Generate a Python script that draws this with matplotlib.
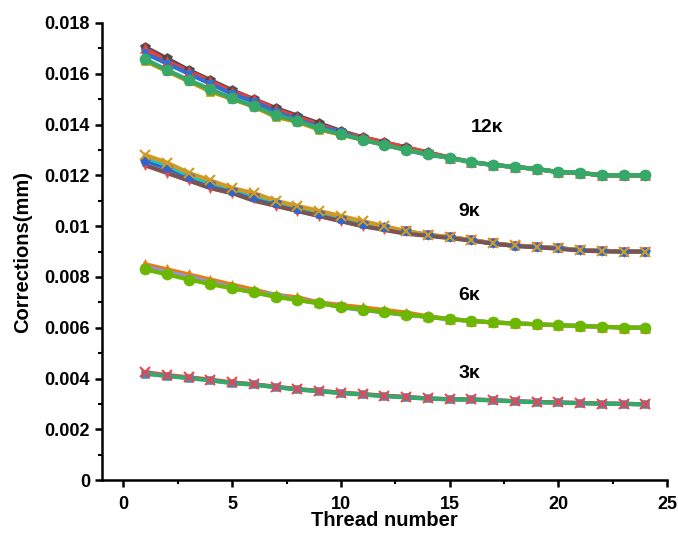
import matplotlib
matplotlib.use("Agg")
import matplotlib.pyplot as plt
from matplotlib.ticker import MultipleLocator, FuncFormatter

plt.rcParams['font.family'] = ['Liberation Sans', 'DejaVu Sans']
plt.rcParams['font.weight'] = 'bold'

threads = list(range(1, 25))

# 12K group
k12_gray = [0.01705, 0.0166, 0.01615, 0.01575, 0.01535, 0.0150, 0.01465, 0.01435, 0.01405, 0.01375, 0.0135, 0.0133,
            0.0131, 0.0129, 0.0127, 0.01252, 0.01241, 0.01233, 0.01225, 0.01213, 0.0121, 0.0120, 0.0120, 0.0120]
k12_red = [0.0170, 0.0165, 0.0161, 0.0157, 0.0153, 0.0150, 0.0146, 0.0143, 0.0140, 0.0137, 0.0135, 0.0133,
           0.0131, 0.0129, 0.0127, 0.01252, 0.01241, 0.01233, 0.01225, 0.01213, 0.0121, 0.0120, 0.0120, 0.0120]
k12_blue = [0.0168, 0.0164, 0.0160, 0.0156, 0.0152, 0.0149, 0.0145, 0.0142, 0.0139, 0.0137, 0.0134, 0.0132,
            0.0130, 0.0128, 0.0127, 0.01252, 0.01241, 0.01233, 0.01225, 0.01213, 0.0121, 0.0120, 0.0120, 0.0120]
k12_olive = [0.0165, 0.0161, 0.0157, 0.0153, 0.0150, 0.0147, 0.0143, 0.0141, 0.0138, 0.0136, 0.0134, 0.0132,
             0.0130, 0.01284, 0.01268, 0.01252, 0.01241, 0.01233, 0.01225, 0.01213, 0.0121, 0.0120, 0.0120, 0.0120]
k12_green = [0.01657, 0.01615, 0.01575, 0.01539, 0.01503, 0.01473, 0.01438, 0.01415, 0.01385, 0.01362, 0.0134, 0.0132,
             0.0130, 0.01284, 0.01268, 0.01252, 0.01241, 0.01233, 0.01225, 0.01213, 0.0121, 0.0120, 0.0120, 0.0120]

# 9K group
k9_brown = [0.0124, 0.0121, 0.0118, 0.0115, 0.0113, 0.0110, 0.0108, 0.0106, 0.0104, 0.0102, 0.0100, 0.00985,
            0.0097, 0.00962, 0.00953, 0.00943, 0.00931, 0.00922, 0.00917, 0.00911, 0.00904, 0.00901, 0.0090, 0.0090]
k9_red = [0.0124, 0.0121, 0.0118, 0.0115, 0.0113, 0.0111, 0.0108, 0.0106, 0.0104, 0.0102, 0.0100, 0.0099,
          0.0098, 0.00965, 0.00956, 0.00945, 0.00932, 0.00923, 0.00919, 0.00913, 0.00906, 0.00903, 0.0090, 0.0090]
k9_blue = [0.01258, 0.01228, 0.01195, 0.01165, 0.0114, 0.01116, 0.0109, 0.01067, 0.01048, 0.01028, 0.0101, 0.00995,
           0.0098, 0.00965, 0.00956, 0.00945, 0.00932, 0.00923, 0.00919, 0.00913, 0.00906, 0.00903, 0.0090, 0.0090]
k9_cyan = [0.0127, 0.0124, 0.0120, 0.0117, 0.0115, 0.0112, 0.0110, 0.0107, 0.0105, 0.0103, 0.0101, 0.00995,
           0.0098, 0.00965, 0.00956, 0.00945, 0.00932, 0.00923, 0.00919, 0.00913, 0.00906, 0.00903, 0.0090, 0.0090]
k9_yellow = [0.0128, 0.0125, 0.0121, 0.0118, 0.0115, 0.0113, 0.0110, 0.0108, 0.0106, 0.0104, 0.0102, 0.0100,
             0.0098, 0.00967, 0.00957, 0.00946, 0.00933, 0.00924, 0.00919, 0.00913, 0.00906, 0.00903, 0.0090, 0.0090]

# 6K group
k6_orange = [0.0085, 0.0083, 0.0081, 0.0079, 0.0077, 0.0075, 0.0073, 0.0072, 0.0070, 0.0069, 0.0068, 0.0067,
             0.0066, 0.00645, 0.00635, 0.00627, 0.00621, 0.00617, 0.00614, 0.0061, 0.00607, 0.00604, 0.00601, 0.006]
k6_blue = [0.0084, 0.0082, 0.0080, 0.0078, 0.0076, 0.0074, 0.0073, 0.0071, 0.0070, 0.0068, 0.0067, 0.0066,
           0.0065, 0.00643, 0.00634, 0.00627, 0.00621, 0.00617, 0.00614, 0.0061, 0.00607, 0.00604, 0.00601, 0.006]
k6_purple = [0.00835, 0.00815, 0.00795, 0.00775, 0.00757, 0.0074, 0.00723, 0.0071, 0.00697, 0.00684, 0.00672, 0.00662,
             0.00652, 0.00643, 0.00634, 0.00627, 0.00621, 0.00617, 0.00614, 0.0061, 0.00607, 0.00604, 0.00601, 0.006]
k6_green = [0.0083, 0.0081, 0.0079, 0.00772, 0.00755, 0.00739, 0.00722, 0.00709, 0.00696, 0.00683, 0.00672, 0.00662,
            0.00652, 0.00643, 0.00634, 0.00627, 0.00621, 0.00617, 0.00614, 0.0061, 0.00607, 0.00604, 0.00601, 0.006]

# 3K group
k3_green = [0.0042, 0.0041, 0.00402, 0.00393, 0.00382, 0.00376, 0.00366, 0.00357, 0.0035, 0.00343, 0.00337, 0.00331,
            0.00326, 0.00321, 0.00318, 0.00317, 0.00314, 0.0031, 0.00307, 0.00305, 0.00303, 0.00301, 0.003, 0.00298]
k3_blue = [0.0042, 0.00411, 0.00403, 0.00394, 0.00383, 0.00377, 0.00367, 0.00358, 0.00351, 0.00344, 0.00338, 0.00332,
           0.00327, 0.00322, 0.00319, 0.00318, 0.00315, 0.00311, 0.00308, 0.00306, 0.00304, 0.00302, 0.00301, 0.00299]
k3_red = [0.00425, 0.00414, 0.00405, 0.00396, 0.00385, 0.00378, 0.00368, 0.00359, 0.00352, 0.00345, 0.00339, 0.00333,
          0.00328, 0.00322, 0.00319, 0.00318, 0.00315, 0.00311, 0.00308, 0.00306, 0.00304, 0.00302, 0.00301, 0.00299]

# (values, colour, marker, marker size) - later entries are drawn on top
series = [
    (k12_gray, '#4a4a4a', 'p', 7), (k12_red, '#e8403c', '^', 7), (k12_blue, '#2f6fd6', 'v', 6),
    (k12_olive, '#b49a00', 's', 5.5), (k12_green, '#35a86a', 'o', 8),
    (k9_red, '#e84848', 'v', 6.5), (k9_blue, '#2a68d0', 'p', 7),
    (k9_cyan, '#1ec4c4', None, 0), (k9_yellow, '#d09a22', 'x', 7), (k9_brown, '#7a5454', None, 0),
    (k6_orange, '#f07810', '^', 7), (k6_blue, '#6aa6e0', None, 0), (k6_purple, '#b07ee0', 's', 5.5),
    (k6_green, '#6cb800', 'o', 8),
    (k3_blue, '#5f7fa8', 's', 6), (k3_red, '#e84848', 'x', 7), (k3_green, '#35a86a', None, 0),
]

labels = ['12\u03ba', '9\u03ba', '6\u03ba', '3\u03ba']
label_x = [16.7, 15.9, 15.9, 15.9]
label_y = [0.01387, 0.01056, 0.00729, 0.00421]

fig = plt.figure(figsize=(6.78, 5.33), dpi=100)
ax = fig.add_axes([0.150, 0.099, 0.834, 0.858])

# lines first, markers above all lines
for vals, col, mk, ms in series:
    ax.plot(threads, vals, color=col, lw=3, zorder=2)
for vals, col, mk, ms in series:
    if mk is None:
        continue
    ax.plot(threads, vals, ls='none', color=col, marker=mk, markersize=ms,
            markeredgewidth=1.5 if mk == 'x' else 0.4, zorder=3)

for t, xx, yy in zip(labels, label_x, label_y):
    ax.text(xx, yy, t, fontsize=14, fontweight='bold', ha='center', va='center')

ax.set_xlim(-1, 25)
ax.set_ylim(0, 0.018)
ax.xaxis.set_major_locator(MultipleLocator(5))
ax.xaxis.set_minor_locator(MultipleLocator(2.5))
ax.yaxis.set_major_locator(MultipleLocator(0.002))
ax.yaxis.set_minor_locator(MultipleLocator(0.001))
ax.yaxis.set_major_formatter(FuncFormatter(lambda v, p: '0' if v == 0 else ('%.3f' % v).rstrip('0')))

for s in ['top', 'right']:
    ax.spines[s].set_visible(False)
for s in ['left', 'bottom']:
    ax.spines[s].set_linewidth(1.8)

ax.tick_params(which='major', direction='out', length=5, width=1.8, labelsize=13)
ax.tick_params(axis='x', which='major', pad=6)
ax.tick_params(which='minor', direction='out', length=3, width=1.5)
for lab in ax.get_xticklabels() + ax.get_yticklabels():
    lab.set_fontweight('bold')

ax.set_xlabel('Thread number', fontsize=14.5, fontweight='bold', labelpad=-1)
ax.set_ylabel('Corrections(mm)', fontsize=14.5, fontweight='bold', labelpad=9)

fig.savefig('out.png', dpi=100)
